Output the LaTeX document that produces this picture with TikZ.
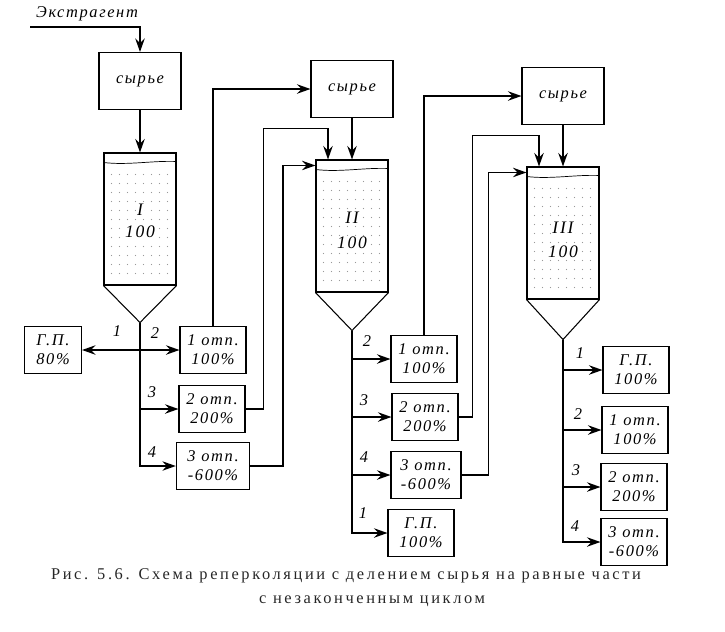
\documentclass[tikz,border=0pt]{standalone}
\usepackage{fontspec}
\setmainfont{Liberation Serif}
\newfontfamily\lblfont[LetterSpace=10]{Liberation Serif}
\newfontfamily\capfont[LetterSpace=16]{Liberation Serif}
\usetikzlibrary{arrows.meta,calc}

\begin{document}
\begin{tikzpicture}[x=0.03cm,y=-0.03cm,
  flow/.style={-{Stealth[length=4mm,width=2.8mm]},line width=1.6pt},
  twoway/.style={{Stealth[length=4mm,width=2.8mm]}-{Stealth[length=4mm,width=2.8mm]},line width=1.6pt},
  rawbox/.style={draw,line width=0.9pt,minimum width=2.46cm,minimum height=1.71cm,font=\lblfont\itshape\fontsize{14}{16}\selectfont},
  outbox/.style={draw,line width=0.9pt,minimum width=1.98cm,minimum height=1.41cm,align=center,inner sep=1pt,font=\lblfont\itshape\fontsize{14}{16}\selectfont},
  column/.style={draw,line width=0.9pt,minimum width=2.16cm,minimum height=3.96cm,inner sep=0pt},
  coltext/.style={fill=white,inner sep=1pt,font=\lblfont\itshape\fontsize{15}{17}\selectfont},
  numlbl/.style={font=\lblfont\itshape\fontsize{14}{16}\selectfont}]
\useasboundingbox (0,0) rectangle (725,631);

% inlet
\node[numlbl,anchor=west] (extr) at (32,14) {Экстрагент};
\coordinate (inlet) at (30,27);

% raw material boxes
\node[rawbox] (rawI) at (140,81) {сырье};
\node[rawbox] (rawII) at (352,89) {сырье};
\node[rawbox] (rawIII) at (563,96) {сырье};

% columns
\node[column] (colI) at (140,219) {};
\node[column] (colII) at (352,226) {};
\node[column] (colIII) at (563,233) {};
\coordinate (apexI) at ($(colI.south)+(0,37)$);
\coordinate (apexII) at ($(colII.south)+(0,38)$);
\coordinate (apexIII) at ($(colIII.south)+(0,40)$);
\foreach \c/\a in {colI/apexI,colII/apexII,colIII/apexIII}{
  \draw[line width=0.9pt] (\c.south west) -- (\a) -- (\c.south east);
  \draw[line width=0.6pt] ($(\c.north west)+(0,10)$) .. controls +(24,3) and +(-24,-1) .. ($(\c.north east)+(0,9)$);
  \foreach \i in {0,...,7}
    \foreach \j in {0,...,11}
      \fill[black!40] ($(\c.north west)+(8+\i*8,22+\j*9)$) circle (0.5pt);
}
\node[coltext] (tI) at (140,210) {I};
\node[coltext] (vI) at (140,232) {100};
\node[coltext] (tII) at (352,218) {II};
\node[coltext] (vII) at (352,243) {100};
\node[coltext] (tIII) at (563,228) {III};
\node[coltext] (vIII) at (563,252) {100};

% outputs of column I
\node[outbox,minimum width=1.71cm] (gpI) at (53,350) {Г.П.\\80\%};
\node[outbox] (o1I) at (213,350) {1 отп.\\100\%};
\node[outbox] (o2I) at (212,409) {2 отп.\\200\%};
\node[outbox,minimum width=2.2cm] (o3I) at (213,466) {3 отп.\\-600\%};

% outputs of column II
\node[outbox] (o1II) at (424,359) {1 отп.\\100\%};
\node[outbox] (o2II) at (425,417) {2 отп.\\200\%};
\node[outbox,minimum width=2.1cm] (o3II) at (426,475) {3 отп.\\-600\%};
\node[outbox] (gpII) at (421,533) {Г.П.\\100\%};

% outputs of column III
\node[outbox] (gpIII) at (636,370) {Г.П.\\100\%};
\node[outbox] (o1III) at (635,430) {1 отп.\\100\%};
\node[outbox] (o2III) at (634,487) {2 отп.\\200\%};
\node[outbox] (o3III) at (634,542) {3 отп.\\-600\%};

% feed
\draw[flow] (inlet) -| (rawI.north);
\draw[flow] (rawI.south) -- (colI.north);
\draw[flow] (rawII.south) -- (colII.north);
\draw[flow] (rawIII.south) -- (colIII.north);

% draining
\draw[flow] (apexI) |- (o3I.west);
\draw[flow] (apexI) |- (o2I.west);
\draw[twoway] (gpI.east) -- (o1I.west);
\draw[flow] (apexII) |- (gpII.west);
\draw[flow] (apexII) |- (o3II.west);
\draw[flow] (apexII) |- (o2II.west);
\draw[flow] (apexII) |- (o1II.west);
\draw[flow] (apexIII) |- (o3III.west);
\draw[flow] (apexIII) |- (o2III.west);
\draw[flow] (apexIII) |- (o1III.west);
\draw[flow] (apexIII) |- (gpIII.west);

% returns to the next column
\draw[flow] (o1I.north) |- (rawII.west);
\draw[flow] (o2I.east) -- ++(18,0) |- ($(colII.north)+(-24,-31)$) -- ($(colII.north)+(-24,0)$);
\draw[flow] (o3I.east) -- ++(33,0) |- ($(colII.north west)+(0,6)$);
\draw[flow] (o1II.north) |- (rawIII.west);
\draw[flow] (o2II.east) -- ++(14,0) |- ($(colIII.north)+(-24,-31)$) -- ($(colIII.north)+(-24,0)$);
\draw[flow] (o3II.east) -- ++(27,0) |- ($(colIII.north west)+(0,6)$);

% draining order
\node[numlbl] (nI1) at (117,331) {1};
\node[numlbl] (nI2) at (155,333) {2};
\node[numlbl] (nI3) at (152,392) {3};
\node[numlbl] (nI4) at (152,452) {4};
\node[numlbl] (nII2) at (367,341) {2};
\node[numlbl] (nII3) at (364,400) {3};
\node[numlbl] (nII4) at (364,457) {4};
\node[numlbl] (nII1) at (363,513) {1};
\node[numlbl] (nIII1) at (580,353) {1};
\node[numlbl] (nIII2) at (578,414) {2};
\node[numlbl] (nIII3) at (576,470) {3};
\node[numlbl] (nIII4) at (575,526) {4};

% caption
\node[font=\capfont\fontsize{14}{16}\selectfont,text=black!85] (cap1) at (346,576) {Рис. 5.6. Схема реперколяции с делением сырья на равные части};
\node[font=\capfont\fontsize{14}{16}\selectfont,text=black!85] (cap2) at (372,601) {с незаконченным циклом};
\end{tikzpicture}
\end{document}
